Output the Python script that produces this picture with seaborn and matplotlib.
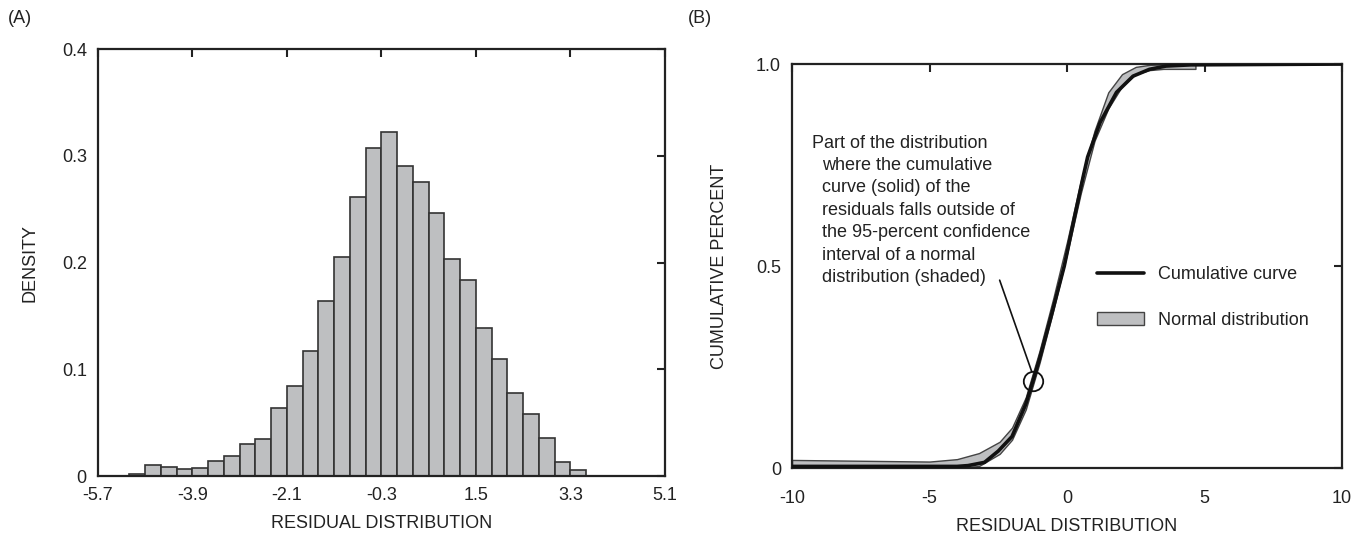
import numpy as np
import pandas as pd
import matplotlib
matplotlib.use("Agg")
import matplotlib.pyplot as plt
import seaborn as sns
from matplotlib.patches import Patch
from matplotlib.lines import Line2D

# ---------------- data ----------------
bin_starts = [-5.1, -4.8, -4.5, -4.2, -3.9, -3.6, -3.3, -3.0, -2.7, -2.4,
              -2.1, -1.8, -1.5, -1.2, -0.9, -0.6, -0.3, 0.0, 0.3, 0.6,
              0.9, 1.2, 1.5, 1.8, 2.1, 2.4, 2.7, 3.0, 3.3]
density = [0.002, 0.010, 0.008, 0.007, 0.0077, 0.0137, 0.019, 0.030, 0.0345, 0.0636,
           0.084, 0.117, 0.164, 0.205, 0.261, 0.307, 0.322, 0.290, 0.275, 0.246,
           0.203, 0.184, 0.139, 0.110, 0.078, 0.058, 0.036, 0.0134, 0.006]
bin_width = 0.3

hist_xticks = [-5.7, -3.9, -2.1, -0.3, 1.5, 3.3, 5.1]
hist_xticklabels = ["-5.7", "-3.9", "-2.1", "-0.3", "1.5", "3.3", "5.1"]
hist_yticks = [0, 0.1, 0.2, 0.3, 0.4]
hist_yticklabels = ["0", "0.1", "0.2", "0.3", "0.4"]

cum_x = [-10, -6, -4, -3.6, -3, -2.5, -2, -1.5, -1.24, -1, -0.6, -0.1, 0.3, 0.6,
         0.75, 1.2, 1.8, 2.4, 3.0, 3.6, 4.5, 10]
cum_y = [0.004, 0.004, 0.004, 0.006, 0.014, 0.042, 0.078, 0.158, 0.215, 0.27, 0.37,
         0.50, 0.63, 0.725, 0.77, 0.855, 0.93, 0.97, 0.987, 0.995, 0.998, 1.0]

band_x = [-10, -5, -4, -3.2, -2.45, -2, -1.5, -1, -0.5, 0, 0.5, 1, 1.5, 2, 2.5,
          3, 3.5, 4.67]
band_upper = [0.02, 0.016, 0.022, 0.037, 0.065, 0.10, 0.175, 0.29, 0.42, 0.56,
              0.71, 0.835, 0.93, 0.975, 0.993, 0.998, 0.999, 0.999]
band_lower = [0.0, 0.0, 0.0, 0.005, 0.035, 0.07, 0.145, 0.26, 0.39, 0.53,
              0.68, 0.81, 0.89, 0.945, 0.975, 0.985, 0.988, 0.988]

cdf_xticks = [-10, -5, 0, 5, 10]
cdf_xticklabels = ["-10", "-5", "0", "5", "10"]
cdf_yticks = [0, 0.5, 1.0]
cdf_yticklabels = ["0", "0.5", "1.0"]

annot_first = "Part of the distribution"
annot_rest = ["where the cumulative", "curve (solid) of the",
              "residuals falls outside of", "the 95-percent confidence",
              "interval of a normal", "distribution (shaded)"]

# ---------------- style ----------------
sns.set_theme(style="white")
plt.rcParams["font.family"] = ["Liberation Sans", "DejaVu Sans"]
plt.rcParams.update({
    "xtick.direction": "in", "ytick.direction": "in",
    "xtick.major.size": 6, "ytick.major.size": 6,
    "xtick.major.width": 1.5, "ytick.major.width": 1.5,
    "xtick.top": True, "ytick.right": True,
    "axes.edgecolor": "#222222", "axes.linewidth": 1.6,
    "text.color": "#222222", "xtick.color": "#222222", "ytick.color": "#222222",
    "axes.labelcolor": "#222222",
})
FS = 13

fig = plt.figure(figsize=(13.59, 5.40), dpi=100)
axA = fig.add_axes([0.0721, 0.1185, 0.4172, 0.7907])
axB = fig.add_axes([0.5828, 0.1333, 0.4047, 0.7481])

# ---------------- panel A ----------------
dfA = pd.DataFrame({"center": np.array(bin_starts) + bin_width / 2, "density": density})
edges = list(bin_starts) + [bin_starts[-1] + bin_width]
sns.histplot(data=dfA, x="center", weights="density", bins=edges, stat="count",
             color="#bebfc1", edgecolor="#333333", linewidth=1.2, alpha=1.0, ax=axA)
axA.set_xlim(-5.7, 5.1)
axA.set_ylim(0, 0.4)
axA.set_xticks(hist_xticks)
axA.set_xticklabels(hist_xticklabels, fontsize=FS)
axA.set_yticks(hist_yticks)
axA.set_yticklabels(hist_yticklabels, fontsize=FS)
axA.tick_params(axis="both", which="both", pad=8, labelsize=FS)
axA.set_xlabel("RESIDUAL DISTRIBUTION", fontsize=FS, labelpad=8)
axA.set_ylabel("DENSITY", fontsize=FS, labelpad=17)

# ---------------- panel B ----------------
axB.fill_between(band_x, band_lower, band_upper, facecolor="#bebfc1",
                 edgecolor="#444444", linewidth=1.0, zorder=2)
dfB = pd.DataFrame({"x": cum_x, "y": cum_y})
sns.lineplot(data=dfB, x="x", y="y", color="#111111", linewidth=2.6, ax=axB,
             zorder=3, sort=False)
axB.set_xlim(-10, 10)
axB.set_ylim(0, 1.0)
axB.set_xticks(cdf_xticks)
axB.set_xticklabels(cdf_xticklabels, fontsize=FS)
axB.set_yticks(cdf_yticks)
axB.set_yticklabels(cdf_yticklabels, fontsize=FS)
axB.tick_params(axis="x", which="both", pad=16, labelsize=FS)
axB.tick_params(axis="y", which="both", pad=8, labelsize=FS)
axB.set_xlabel("RESIDUAL DISTRIBUTION", fontsize=FS, labelpad=8)
axB.set_ylabel("CUMULATIVE PERCENT", fontsize=FS, labelpad=20)

# annotation
axB.plot([-1.24], [0.215], marker="o", markersize=14, markerfacecolor="none",
         markeredgecolor="#111111", markeredgewidth=1.3, zorder=4)
axB.plot([-2.45, -1.28], [0.465, 0.238], color="#111111", linewidth=1.2, zorder=4)
axB.text(-9.27, 0.804, annot_first, fontsize=FS, ha="left", va="center")
for i, line in enumerate(annot_rest):
    axB.text(-8.9, 0.75 - i * 0.0557, line, fontsize=FS, ha="left", va="center")

handles = [Line2D([0], [0], color="#111111", linewidth=2.6),
           Patch(facecolor="#bebfc1", edgecolor="#444444", linewidth=1.0)]
axB.legend(handles, ["Cumulative curve", "Normal distribution"], loc="upper left",
           bbox_to_anchor=(0.555, 0.50), frameon=False, fontsize=FS,
           handlelength=2.6, handletextpad=0.75, labelspacing=1.6, borderpad=0,
           borderaxespad=0)

fig.text(0.006, 0.965, "(A)", fontsize=FS, ha="left", va="center")
fig.text(0.506, 0.965, "(B)", fontsize=FS, ha="left", va="center")

fig.savefig("out.png", dpi=100)
